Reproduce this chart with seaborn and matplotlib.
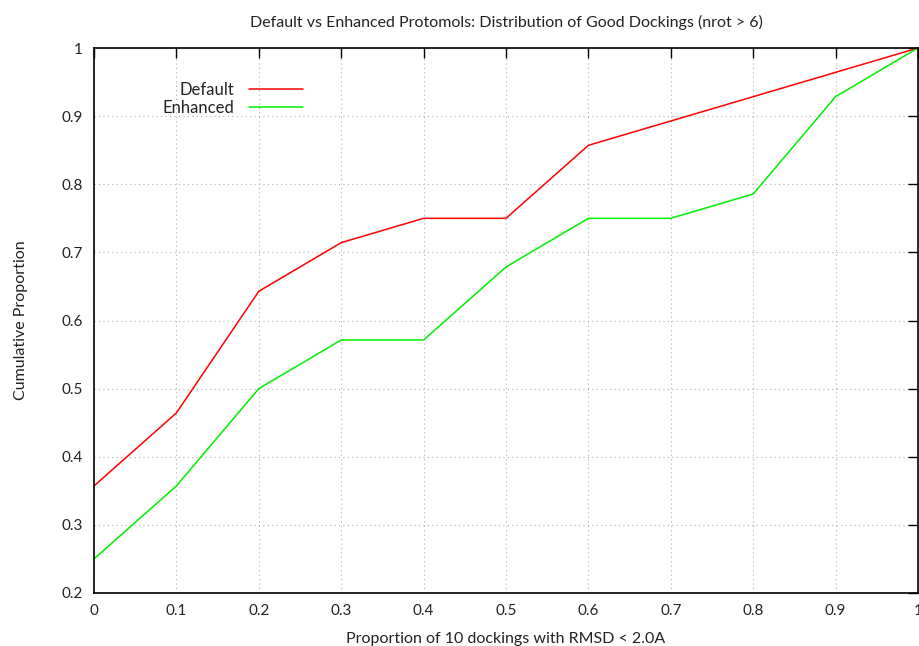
import matplotlib
matplotlib.use("Agg")
import matplotlib.pyplot as plt
import seaborn as sns
import pandas as pd

sns.set_style("white")
plt.rcParams["font.family"] = ["Liberation Sans Narrow", "Lato", "DejaVu Sans"]

proportion = [0.0, 0.1, 0.2, 0.3, 0.4, 0.5, 0.6, 0.7, 0.8, 0.9, 1.0]
default_cum = [10/28, 13/28, 18/28, 20/28, 21/28, 21/28, 24/28, 25/28, 26/28, 27/28, 1.0]
enhanced_cum = [7/28, 10/28, 14/28, 16/28, 16/28, 19/28, 21/28, 21/28, 22/28, 26/28, 1.0]
x_ticks = [0, 0.1, 0.2, 0.3, 0.4, 0.5, 0.6, 0.7, 0.8, 0.9, 1]
x_labels = ["0", "0.1", "0.2", "0.3", "0.4", "0.5", "0.6", "0.7", "0.8", "0.9", "1"]
y_ticks = [0.2, 0.3, 0.4, 0.5, 0.6, 0.7, 0.8, 0.9, 1]
y_labels = ["0.2", "0.3", "0.4", "0.5", "0.6", "0.7", "0.8", "0.9", "1"]

df = pd.DataFrame({
    "x": proportion * 2,
    "y": default_cum + enhanced_cum,
    "series": ["Default"] * len(proportion) + ["Enhanced"] * len(proportion),
})

fig = plt.figure(figsize=(9.2, 6.46), dpi=100)
ax = fig.add_axes([94 / 920, 1 - 593 / 646, (918 - 94) / 920, (593 - 48) / 646])

sns.lineplot(data=df, x="x", y="y", hue="series",
             palette={"Default": "#ff0000", "Enhanced": "#00ee00"},
             linewidth=1.1, ax=ax, legend=False, sort=False)

ax.set_xlim(0, 1)
ax.set_ylim(0.2, 1)
ax.set_xticks(x_ticks)
ax.set_xticklabels(x_labels)
ax.set_yticks(y_ticks)
ax.set_yticklabels(y_labels)
ax.grid(True, color="#b0b0b0", linestyle=(0, (1, 3)), linewidth=0.8)
ax.tick_params(direction="in", length=7, width=1, top=True, right=True,
               labelsize=11, pad=8, colors="black", labelcolor="#222222")
for sp in ax.spines.values():
    sp.set_color("black")
    sp.set_linewidth(1.2)

ax.set_title("Default vs Enhanced Protomols: Distribution of Good Dockings (nrot > 6)",
             fontsize=11.5, pad=15, color="#222222")
ax.set_xlabel("Proportion of 10 dockings with RMSD < 2.0A", fontsize=11.5,
              labelpad=10, color="#222222")
ax.set_ylabel("Cumulative Proportion", fontsize=11.5, labelpad=24, color="#222222")

handles = [plt.Line2D([], [], color="#ff0000", lw=1.1),
           plt.Line2D([], [], color="#00ee00", lw=1.1)]
leg = ax.legend(handles, ["Default", "Enhanced"], loc="upper left",
                bbox_to_anchor=(0.065, 0.965), frameon=False, markerfirst=False,
                handlelength=3.2, handletextpad=0.9, labelspacing=0.1,
                fontsize=12)
for t in leg.get_texts():
    t.set_ha("right")
    t.set_color("#222222")

fig.savefig("out.png", dpi=100, facecolor="white")
